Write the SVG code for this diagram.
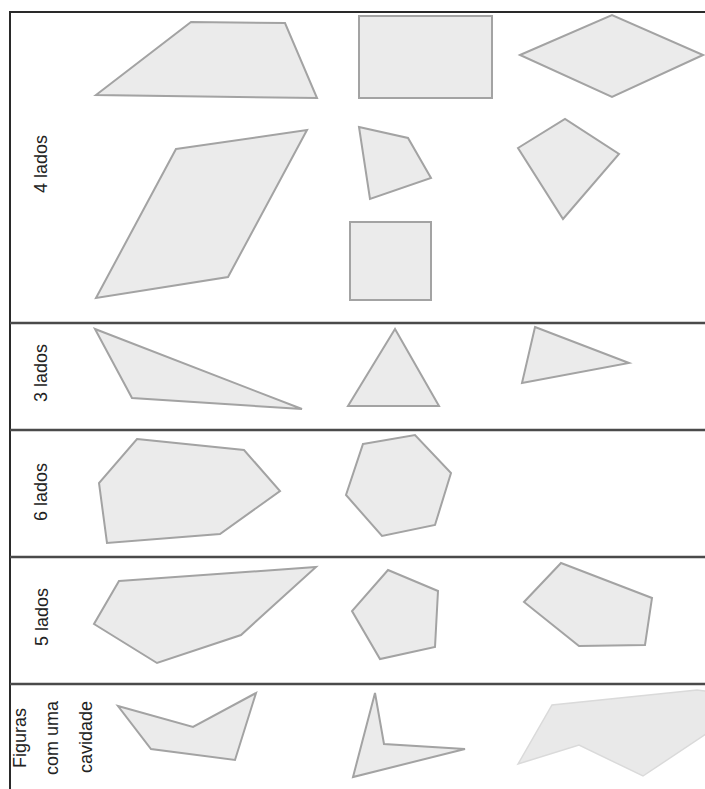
<svg xmlns="http://www.w3.org/2000/svg" width="705" height="789" viewBox="0 0 705 789">
<style>
.frame{stroke:#2a2a2a;stroke-width:2;fill:none}
.div{stroke:#4a4a4a;stroke-width:2.5;fill:none}
.shape{fill:#ebebeb;stroke:#a3a3a3;stroke-width:2;stroke-linejoin:miter}
.light{fill:#e9e9e9;stroke:#dadada;stroke-width:1.5}
.lbl{font-family:"Liberation Sans",Arial,sans-serif;font-size:18px;fill:#222;text-anchor:middle}
</style>
<rect width="705" height="789" fill="#ffffff"/>
<g id="frame">
<line class="frame" x1="9" y1="12" x2="705" y2="12"/>
<line class="frame" x1="10" y1="11" x2="10" y2="789"/>
<line class="div" x1="10" y1="323" x2="705" y2="323"/>
<line class="div" x1="10" y1="430" x2="705" y2="430"/>
<line class="div" x1="10" y1="557" x2="705" y2="557"/>
<line class="div" x1="10" y1="684" x2="705" y2="684"/>
</g>
<g id="labels">
<text class="lbl" transform="translate(47,164) rotate(-90)">4 lados</text>
<text class="lbl" transform="translate(47,373) rotate(-90)">3 lados</text>
<text class="lbl" transform="translate(47,492) rotate(-90)">6 lados</text>
<text class="lbl" transform="translate(48,617) rotate(-90)">5 lados</text>
<text class="lbl" transform="translate(26,738) rotate(-90)">Figuras</text>
<text class="lbl" transform="translate(58,738) rotate(-90)">com uma</text>
<text class="lbl" transform="translate(92,737) rotate(-90)">cavidade</text>
</g>
<g id="q1"><polygon class="shape" points="96,95 191,22 285,23 317,98"/></g>
<g id="q2"><rect class="shape" x="359" y="16" width="133" height="82"/></g>
<g id="q3"><polygon class="shape" points="520,55 612,15 703,55 612,97"/></g>
<g id="q4"><polygon class="shape" points="176,149 307,130 228,277 96,298"/></g>
<g id="q5"><polygon class="shape" points="359,127 408,138 431,178 370,199"/></g>
<g id="q6"><polygon class="shape" points="518,148 565,119 619,154 563,219"/></g>
<g id="q7"><rect class="shape" x="350" y="222" width="81" height="78"/></g>
<g id="t1"><polygon class="shape" points="95,329 132,398 302,409"/></g>
<g id="t2"><polygon class="shape" points="395,329 348,406 439,406"/></g>
<g id="t3"><polygon class="shape" points="535,327 629,363 522,383"/></g>
<g id="h1"><polygon class="shape" points="137,439 244,450 280,491 220,534 107,543 99,483"/></g>
<g id="h2"><polygon class="shape" points="363,444 415,435 451,473 435,525 382,536 346,495"/></g>
<g id="p1"><polygon class="shape" points="119,581 316,567 241,635 157,663 94,624"/></g>
<g id="p2"><polygon class="shape" points="388,570 438,591 435,647 380,659 352,611"/></g>
<g id="p3"><polygon class="shape" points="561,563 652,598 645,645 579,646 524,602"/></g>
<g id="c1"><polygon class="shape" points="118,706 193,727 256,693 235,760 151,749"/></g>
<g id="c2"><polygon class="shape" points="375,693 384,744 465,749 353,777"/></g>
<g id="c3"><polygon class="light" points="518,764 552,705 697,690 706,691 706,734 643,776 579,745"/></g>
</svg>
